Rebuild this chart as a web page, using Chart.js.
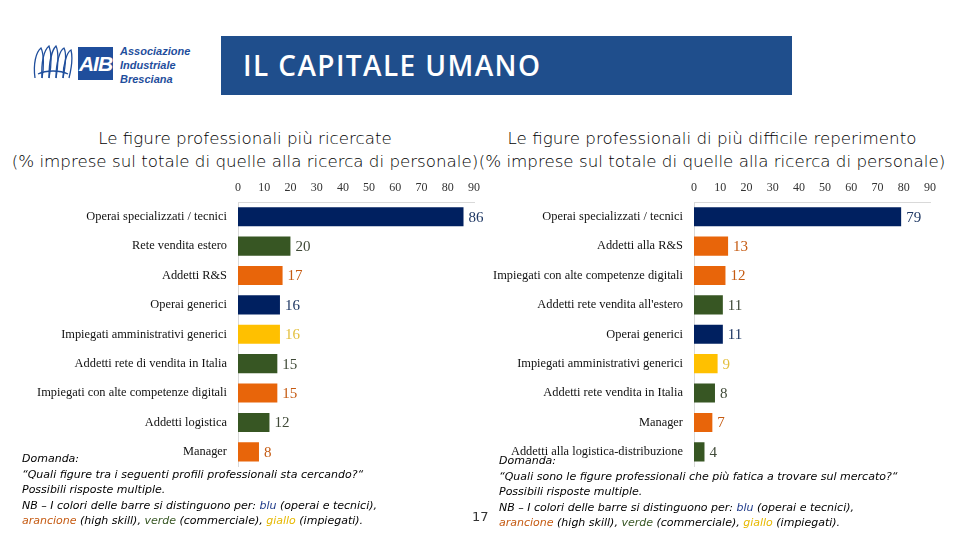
<!DOCTYPE html>
<html>
<head>
<meta charset="utf-8">
<script src="https://cdn.jsdelivr.net/npm/chart.js@4.4.0/dist/chart.umd.min.js"></script>
<style>
  body { margin: 0; background: #fff; }
  #page { position: relative; width: 960px; height: 540px; overflow: hidden; background: #fff; }
  .abs { position: absolute; }
  .title { font-family: 'DejaVu Sans', sans-serif; font-weight: 200; font-size: 16.7px; color: #000; text-align: center; white-space: nowrap; line-height: 23px; }
  .note { font-family: 'DejaVu Sans', sans-serif; font-weight: 200; font-style: italic; font-size: 11px; color: #000; line-height: 15.6px; white-space: nowrap; }
  .c-blu { color: #1f3a8a; } .c-ara { color: #c55a11; } .c-ver { color: #375623; } .c-gia { color: #e6b800; }
  canvas { position: absolute; }
</style>
</head>
<body>
<div id="page">
  <!-- logo -->
  <svg class="abs" style="left:32px;top:44px" width="42" height="38" viewBox="0 0 42 38">
    <g fill="none" stroke="#1f4e9c" stroke-width="1.3">
      <path d="M3 34 C1 20 4 8 9 4 C12 10 12 24 10 34"/>
      <path d="M10 34 C9 18 12 6 17 2 C20 10 19 24 17 34"/>
      <path d="M17 34 C17 18 20 6 24 2 C27 8 26 24 24 34"/>
      <path d="M24 34 C24 18 28 6 32 4 C35 10 33 24 31 34"/>
      <path d="M31 34 C31 20 35 8 39 6 C41 14 39 26 37 34"/>
      <path d="M6 30 C14 26 28 26 36 30"/>
    </g>
  </svg>
  <div class="abs" style="left:78px;top:47px;width:35px;height:33px;background:#1f4e9c;color:#fff;font:italic bold 21px 'Liberation Sans';line-height:33px;text-align:center;letter-spacing:-1px">AIB</div>
  <div class="abs" style="left:120px;top:44px;font:italic bold 11px/14px 'Liberation Sans';color:#1f4e9c">Associazione<br>Industriale<br>Bresciana</div>

  <!-- header -->
  <div class="abs" style="left:221px;top:36px;width:571px;height:59px;background:#1f4e8c"></div>
  <div class="abs" style="left:243px;top:47px;font:600 28px/36px 'Open Sans';color:#fff;letter-spacing:1.4px">IL CAPITALE UMANO</div>

  <!-- titles -->
  <div class="abs title" style="left:0;width:490px;top:127px">Le figure professionali più ricercate<br>(% imprese sul totale di quelle alla ricerca di personale)</div>
  <div class="abs title" style="left:467px;width:490px;top:127px">Le figure professionali di più difficile reperimento<br>(% imprese sul totale di quelle alla ricerca di personale)</div>

  <canvas id="left" style="left:0;top:175px" width="490" height="310"></canvas>
  <canvas id="right" style="left:480px;top:175px" width="480" height="310"></canvas>

  <!-- notes -->
  <div class="abs note" style="left:22px;top:451px">Domanda:<br>“Quali figure tra i seguenti profili professionali sta cercando?“<br>Possibili risposte multiple.<br>NB – I colori delle barre si distinguono per: <span class="c-blu">blu</span> (operai e tecnici),<br><span class="c-ara">arancione</span> (high skill), <span class="c-ver">verde</span> (commerciale), <span class="c-gia">giallo</span> (impiegati).</div>
  <div class="abs note" style="left:499px;top:453px">Domanda:<br>“Quali sono le figure professionali che più fatica a trovare sul mercato?“<br>Possibili risposte multiple.<br>NB – I colori delle barre si distinguono per: <span class="c-blu">blu</span> (operai e tecnici),<br><span class="c-ara">arancione</span> (high skill), <span class="c-ver">verde</span> (commerciale), <span class="c-gia">giallo</span> (impiegati).</div>
  <div class="abs" style="left:472px;top:509px;font:13px 'DejaVu Sans';color:#333">17</div>
</div>

<script>
// dati: grafico sinistro (figure più ricercate)
const leftLabels = ['Operai specializzati / tecnici', 'Rete vendita estero', 'Addetti R&S', 'Operai generici',
    'Impiegati amministrativi generici', 'Addetti rete di vendita in Italia', 'Impiegati con alte competenze digitali',
    'Addetti logistica', 'Manager']
const leftValues = [86, 20, 17, 16, 16, 15, 15, 12, 8]
const leftGroups = ['blu', 'verde', 'arancione', 'blu', 'giallo', 'verde', 'arancione', 'verde', 'arancione']

// dati: grafico destro (figure di più difficile reperimento)
const rightLabels = ['Operai specializzati / tecnici', 'Addetti alla R&S', 'Impiegati con alte competenze digitali',
    "Addetti rete vendita all'estero", 'Operai generici', 'Impiegati amministrativi generici',
    'Addetti rete vendita in Italia', 'Manager', 'Addetti alla logistica-distribuzione']
const rightValues = [79, 13, 12, 11, 11, 9, 8, 7, 4]
const rightGroups = ['blu', 'arancione', 'arancione', 'verde', 'blu', 'giallo', 'verde', 'arancione', 'verde']

const xTicks = [0, 10, 20, 30, 40, 50, 60, 70, 80, 90]

const barColors = {blu: '#002060', verde: '#375623', arancione: '#e8650a', giallo: '#ffc000'}
const valueColors = {blu: '#1f3864', verde: '#404a38', arancione: '#c55a11', giallo: '#e3bf3c'}

const valueLabels = {
    id: 'valueLabels',
    afterDatasetsDraw(chart) {
        const ctx = chart.ctx
        const groups = chart.options.plugins.valueLabels.groups
        const meta = chart.getDatasetMeta(0)
        ctx.save()
        ctx.font = '15px "Liberation Serif"'
        ctx.textBaseline = 'middle'
        ctx.textAlign = 'left'
        meta.data.forEach((bar, i) => {
            ctx.fillStyle = valueColors[groups[i]]
            ctx.fillText(chart.data.datasets[0].data[i], bar.x + 5, bar.y + 1)
        })
        ctx.restore()
    }
}

function makeChart(id, labels, values, groups, axisWidth, padRight) {
    return new Chart(document.getElementById(id).getContext('2d'), {
        type: 'bar',
        data: {
            labels: labels,
            datasets: [{
                data: values,
                backgroundColor: groups.map(g => barColors[g]),
                barPercentage: 0.65,
                categoryPercentage: 1
            }]
        },
        options: {
            indexAxis: 'y',
            responsive: false,
            animation: false,
            layout: {padding: {top: 0, right: padRight, bottom: 4, left: 0}},
            plugins: {legend: {display: false}, tooltip: {enabled: false}, valueLabels: {groups: groups}},
            scales: {
                x: {
                    position: 'top', min: 0, max: 90,
                    afterBuildTicks: s => { s.ticks = xTicks.map(v => ({value: v})) },
                    afterFit: s => { s.height = 27 },
                    grid: {display: false, drawTicks: false},
                    border: {display: true, color: '#d9d9d9'},
                    ticks: {color: '#333', padding: 7, font: {family: 'Liberation Serif', size: 12}}
                },
                y: {
                    afterFit: s => { s.width = axisWidth },
                    grid: {display: false, drawTicks: false},
                    border: {display: true, color: '#d9d9d9'},
                    ticks: {color: '#111', padding: 11, font: {family: 'Liberation Serif', size: 12.4}}
                }
            }
        },
        plugins: [valueLabels]
    })
}

makeChart('left', leftLabels, leftValues, leftGroups, 238, 16)
makeChart('right', rightLabels, rightValues, rightGroups, 214, 30)
</script>
</body>
</html>
